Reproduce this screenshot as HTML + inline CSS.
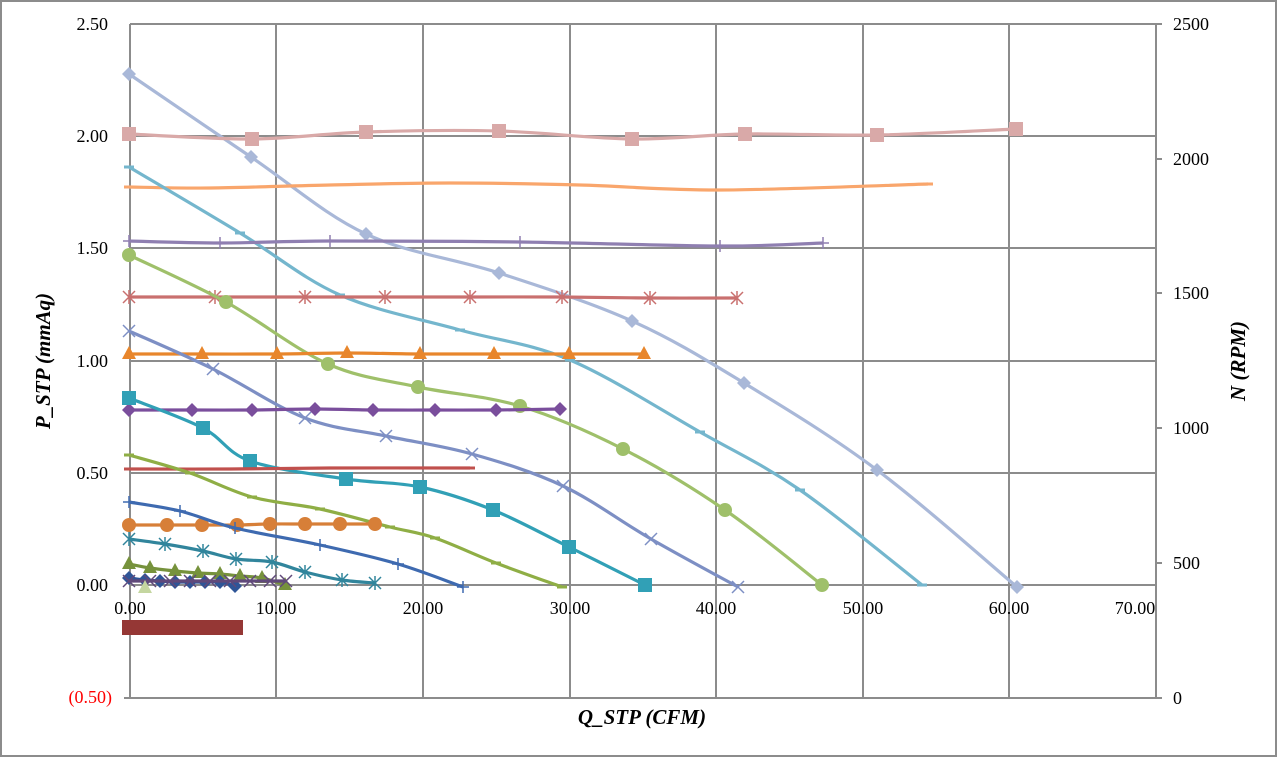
<!DOCTYPE html>
<html><head><meta charset="utf-8"><style>
html,body{margin:0;padding:0;background:#fff}
svg{display:block}
text{font-family:"Liberation Serif",serif}
</style></head><body>
<svg id="s" width="1277" height="757" xmlns="http://www.w3.org/2000/svg">
<rect x="1" y="1" width="1275" height="755" fill="#fff" stroke="#8c8c8c" stroke-width="2"/>
<g stroke="#8c8c8c" stroke-width="2" fill="none">
<line x1="130" y1="24" x2="1156" y2="24"/>
<line x1="130" y1="136" x2="1156" y2="136"/>
<line x1="130" y1="248" x2="1156" y2="248"/>
<line x1="130" y1="361" x2="1156" y2="361"/>
<line x1="130" y1="473" x2="1156" y2="473"/>
<line x1="130" y1="585" x2="1156" y2="585"/>
<line x1="124" y1="698" x2="1156" y2="698"/>
<line x1="130" y1="24" x2="130" y2="698"/>
<line x1="276" y1="24" x2="276" y2="698"/>
<line x1="423" y1="24" x2="423" y2="698"/>
<line x1="570" y1="24" x2="570" y2="698"/>
<line x1="716" y1="24" x2="716" y2="698"/>
<line x1="863" y1="24" x2="863" y2="698"/>
<line x1="1009" y1="24" x2="1009" y2="698"/>
<line x1="1156" y1="24" x2="1156" y2="698"/>
<line x1="1156" y1="24" x2="1162" y2="24"/>
<line x1="1156" y1="159" x2="1162" y2="159"/>
<line x1="1156" y1="293" x2="1162" y2="293"/>
<line x1="1156" y1="428" x2="1162" y2="428"/>
<line x1="1156" y1="563" x2="1162" y2="563"/>
<line x1="1156" y1="698" x2="1162" y2="698"/>
</g>
<g font-size="18" text-anchor="end" fill="#000">
<text x="108" y="30">2.50</text><text x="108" y="142">2.00</text><text x="108" y="254">1.50</text>
<text x="108" y="367">1.00</text><text x="108" y="479">0.50</text><text x="108" y="591">0.00</text>
<text x="112" y="703" fill="#ff0000">(0.50)</text>
</g>
<g font-size="18" fill="#000">
<text x="1173" y="30">2500</text><text x="1173" y="165">2000</text><text x="1173" y="299">1500</text>
<text x="1173" y="434">1000</text><text x="1173" y="569">500</text><text x="1173" y="704">0</text>
</g>
<g font-size="18" text-anchor="middle" fill="#000">
<text x="130" y="614">0.00</text><text x="276" y="614">10.00</text><text x="423" y="614">20.00</text>
<text x="570" y="614">30.00</text><text x="716" y="614">40.00</text><text x="863" y="614">50.00</text>
<text x="1009" y="614">60.00</text><text x="1135" y="614">70.00</text>
</g>
<text x="642" y="724" font-size="21" font-weight="bold" font-style="italic" text-anchor="middle">Q_STP (CFM)</text>
<text transform="translate(50,361) rotate(-90)" font-size="21" font-weight="bold" font-style="italic" text-anchor="middle">P_STP (mmAq)</text>
<text transform="translate(1245,361) rotate(-90)" font-size="21" font-weight="bold" font-style="italic" text-anchor="middle">N (RPM)</text>
<g id="series"></g>
<g fill="#953735">
<rect x="122" y="620" width="121" height="15"/>
</g>
</svg>
<script>
var S=[
["#a9b8d8","d",[[129,74],[251,157],[366,234],[499,273],[632,321],[744,383],[877,470],[1017,587]]],
["#d9a9a8","s",[[129,134],[252,139],[366,132],[499,131],[632,139],[745,134],[877,135],[1016,129]]],
["#f9a66c","-",[[129,187],[210,188],[330,185],[450,183],[580,185],[720,190],[928,184]]],
["#74b6cd","-",[[129,167],[240,233],[340,295],[460,330],[570,360],[700,432],[800,490],[922,585]]],
["#8f7fb1","+",[[129,241],[220,243],[330,241],[520,242],[720,246],[823,243]]],
["#c9706f","*",[[129,297],[215,297],[305,297],[385,297],[470,297],[562,297],[650,298],[737,298]]],
["#9fc06a","o",[[129,255],[226,302],[328,364],[418,387],[520,406],[623,449],[725,510],[822,585]]],
["#e8862c","t",[[129,354],[202,354],[277,354],[347,353],[420,354],[494,354],[569,354],[644,354]]],
["#7d8fc4","x",[[129,331],[213,369],[305,418],[386,436],[472,454],[563,486],[651,539],[738,587]]],
["#7a4e9c","d",[[129,410],[192,410],[252,410],[315,409],[373,410],[435,410],[496,410],[560,409]]],
["#31a0b6","s",[[129,398],[203,428],[250,461],[346,479],[420,487],[493,510],[569,547],[645,585]]],
["#c0504d","-",[[129,469],[230,469],[330,468],[470,468]]],
["#8fae45","-",[[129,455],[190,473],[252,497],[320,509],[390,527],[435,538],[496,563],[562,587]]],
["#d77f38","o",[[129,525],[167,525],[202,525],[237,525],[270,524],[305,524],[340,524],[375,524]]],
["#3e6ab0","+",[[129,502],[180,511],[235,528],[320,545],[398,564],[463,587]]],
["#31859c","*",[[129,539],[165,544],[203,551],[236,559],[272,562],[305,572],[342,580],[375,583]]],
["#76923c","t",[[129,564],[150,568],[175,571],[198,573],[220,574],[240,576],[262,578],[285,585]]],
["#2f5597","d",[[129,578],[145,580],[160,581],[175,582],[190,582],[205,582],[220,582],[235,586]]],
["#60497a","x",[[129,581],[150,581],[170,581],[190,581],[210,581],[230,581],[250,581],[270,581],[286,581]]],
["#c4d6a0","t",[[145,588]]]
];
var h="";
S.forEach(function(s){var c=s[0],m=s[1],p=s[2];
 if(p.length>1){var d="M"+p[0][0]+","+p[0][1];
  for(var i=0;i<p.length-1;i++){var p0=p[i-1]||p[i],p1=p[i],p2=p[i+1],p3=p[i+2]||p2;
   d+=" C"+(p1[0]+(p2[0]-p0[0])/6)+","+(p1[1]+(p2[1]-p0[1])/6)+" "+(p2[0]-(p3[0]-p1[0])/6)+","+(p2[1]-(p3[1]-p1[1])/6)+" "+p2[0]+","+p2[1];}
  h+='<path d="'+d+'" fill="none" stroke="'+c+'" stroke-width="3.2"/>';}
 p.forEach(function(q){var x=q[0],y=q[1];
  if(m=="d")h+='<polygon points="'+x+','+(y-7)+' '+(x+7)+','+y+' '+x+','+(y+7)+' '+(x-7)+','+y+'" fill="'+c+'"/>';
  else if(m=="s")h+='<rect x="'+(x-7)+'" y="'+(y-7)+'" width="14" height="14" fill="'+c+'"/>';
  else if(m=="o")h+='<circle cx="'+x+'" cy="'+y+'" r="7" fill="'+c+'"/>';
  else if(m=="t")h+='<polygon points="'+x+','+(y-8)+' '+(x+7)+','+(y+5)+' '+(x-7)+','+(y+5)+'" fill="'+c+'"/>';
  else if(m=="-")h+='<line x1="'+(x-5)+'" y1="'+y+'" x2="'+(x+5)+'" y2="'+y+'" stroke="'+c+'" stroke-width="3"/>';
  else if(m=="+")h+='<path d="M'+(x-6)+','+y+'h12M'+x+','+(y-6)+'v12" stroke="'+c+'" stroke-width="1.5"/>';
  else if(m=="x")h+='<path d="M'+(x-6)+','+(y-6)+'l12,12M'+(x+6)+','+(y-6)+'l-12,12" stroke="'+c+'" stroke-width="1.5"/>';
  else if(m=="*")h+='<path d="M'+(x-6)+','+(y-6)+'l12,12M'+(x+6)+','+(y-6)+'l-12,12M'+x+','+(y-7)+'v14" stroke="'+c+'" stroke-width="1.5"/>';
 });
});
document.getElementById("series").innerHTML=h;
</script>
</body></html>
